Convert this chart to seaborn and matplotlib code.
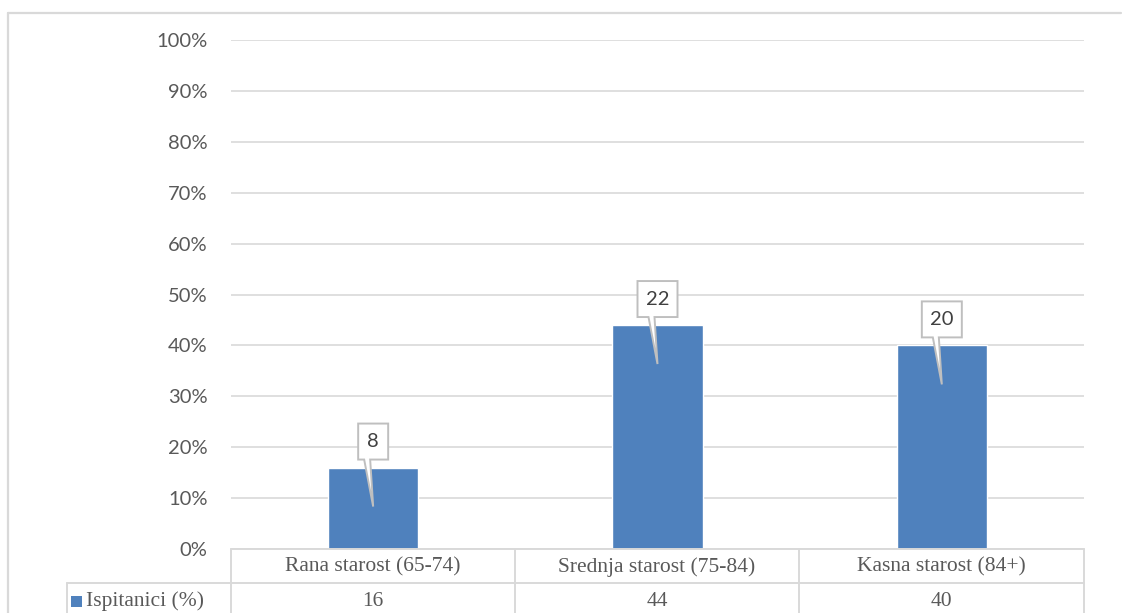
import matplotlib
matplotlib.use("Agg")
import matplotlib.pyplot as plt
import seaborn as sns
from matplotlib.lines import Line2D
from matplotlib.patches import Polygon, Rectangle
from matplotlib.ticker import PercentFormatter
from matplotlib.transforms import Affine2D, ScaledTranslation

categories = ["Rana starost (65-74)", "Srednja starost (75-84)", "Kasna starost (84+)"]
percent = [16, 44, 40]
counts = [8, 22, 20]
series_name = "Ispitanici (%)"
yticks = [0, 10, 20, 30, 40, 50, 60, 70, 80, 90, 100]

BAR = "#4F81BD"
GRID = "#D9D9D9"
TEXT = "#595959"
W, H = 1122, 613

sns.set_theme(style="white")
plt.rcParams["font.family"] = ["Lato", "DejaVu Sans"]

fig = plt.figure(figsize=(W / 100, H / 100), dpi=100)


def fx(px):
    return px / W


def fy(py):
    # py measured from the top of the picture
    return 1 - py / H


left, right, top, bottom = 231, 1084, 40, 549
ax = fig.add_axes([fx(left), fy(bottom), fx(right - left), fy(top) - fy(bottom)])

sns.barplot(x=categories, y=[p / 100 for p in percent], color=BAR, width=0.317,
            saturation=1, ax=ax, zorder=3)
ax.set_ylim(0, 1)
ax.set_xlim(-0.5, len(categories) - 0.5)
ax.set_yticks([t / 100 for t in yticks])
ax.yaxis.set_major_formatter(PercentFormatter(1.0, decimals=0))
ax.yaxis.grid(True, color=GRID, linewidth=1.2, zorder=0)
ax.set_xticks([])
ax.set_xlabel("")
ax.set_ylabel("")
for s in ax.spines.values():
    s.set_visible(False)
ax.tick_params(axis="y", length=0, pad=17, labelsize=14.5, labelcolor=TEXT)

# callout data labels
for i, (p, c) in enumerate(zip(percent, counts)):
    half = 15 if c < 10 else 20
    verts = [(-half, 8), (-half, 44), (half, 44), (half, 8),
             (-3, 8), (0, -39), (-9, 8)]
    tr = Affine2D() + ScaledTranslation(i, p / 100, ax.transData)
    ax.add_patch(Polygon(verts, closed=True, transform=tr, facecolor="white",
                         edgecolor="#BFBFBF", linewidth=1.4, zorder=5,
                         clip_on=False))
    ax.text(0, 26, str(c), transform=tr, ha="center", va="center",
            fontsize=14.5, color="#404040", zorder=6)

# data table under the chart
serif = ["Liberation Serif", "DejaVu Serif"]
row1, row2, row_end = 549, 583, 640
col_edges = [231, 515, 799, 1084]


def hline(x0, x1, y, color=GRID, lw=1.4):
    fig.add_artist(Line2D([fx(x0), fx(x1)], [fy(y), fy(y)], color=color, lw=lw))


def vline(x, y0, y1, color=GRID, lw=1.4):
    fig.add_artist(Line2D([fx(x), fx(x)], [fy(y0), fy(y1)], color=color, lw=lw))


hline(left, right, row1)
hline(67, right, row2)
for x in col_edges:
    vline(x, row1, row_end)
vline(67, row2, row_end)

for i, (cat, p) in enumerate(zip(categories, percent)):
    cx = (col_edges[i] + col_edges[i + 1]) / 2
    fig.text(fx(cx), fy(567), cat, ha="center", va="center", fontsize=15.5,
             family=serif, color=TEXT)
    fig.text(fx(cx), fy(601), str(p), ha="center", va="center", fontsize=15.5,
             family=serif, color=TEXT)

fig.add_artist(Rectangle((fx(71), fy(607)), fx(11), fy(596) - fy(607),
                         facecolor=BAR, edgecolor="none"))
fig.text(fx(86), fy(601), series_name, ha="left", va="center", fontsize=15.5,
         family=serif, color=TEXT)

# outer chart border
hline(8, 1121, 13, color="#D9D9D9", lw=1.6)
vline(8, 13, 613, color="#D9D9D9", lw=1.6)

fig.savefig("out.png", dpi=100)
